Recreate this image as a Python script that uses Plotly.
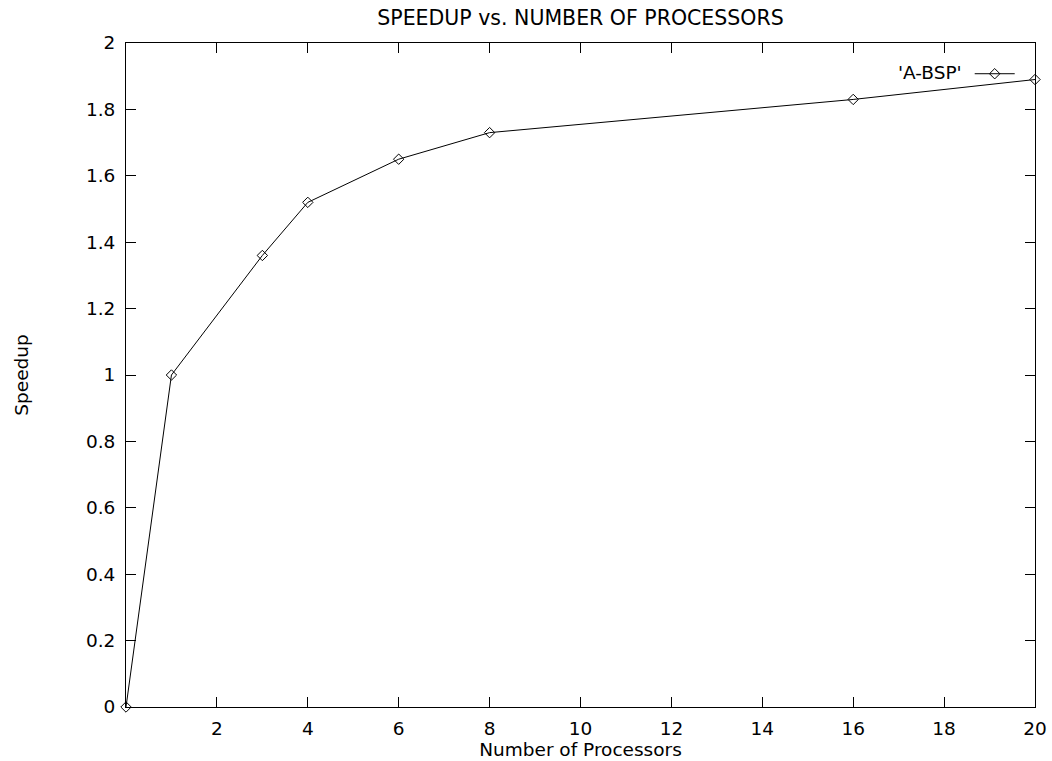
import plotly.graph_objects as go

processors = [0, 1, 3, 4, 6, 8, 16, 20]
speedup = [0.0, 1.0, 1.36, 1.52, 1.65, 1.73, 1.83, 1.89]
x_ticks = [2, 4, 6, 8, 10, 12, 14, 16, 18, 20]
y_ticks = [0, 0.2, 0.4, 0.6, 0.8, 1.0, 1.2, 1.4, 1.6, 1.8, 2.0]
series_name = "'A-BSP'"

FONT = "DejaVu Sans"
FS = 18.5

fig = go.Figure()
fig.add_trace(go.Scatter(
    x=processors, y=speedup, mode="lines+markers", name="",
    line=dict(color="black", width=1),
    marker=dict(symbol="diamond-open", size=8, color="black", line=dict(width=1)),
    cliponaxis=False,
    showlegend=True,
))

axis_common = dict(
    showline=True, linecolor="black", linewidth=1, mirror="ticks",
    ticks="inside", ticklen=10, tickwidth=1, tickcolor="black",
    showgrid=False, zeroline=False, automargin=False,
    tickfont=dict(family=FONT, size=FS, color="black"),
)

fig.update_layout(
    width=1052, height=761,
    margin=dict(l=126, r=17, t=43, b=54),
    paper_bgcolor="white", plot_bgcolor="white",
    font=dict(family=FONT, size=FS, color="black"),
    title=dict(text="SPEEDUP vs. NUMBER OF PROCESSORS", x=(126 + 1035) / 2 / 1052,
               xanchor="center", y=1 - 18 / 761, yanchor="middle",
               font=dict(family=FONT, size=20.5, color="black")),
    xaxis=dict(range=[0, 20], tickvals=x_ticks, ticklabelstandoff=5,
               title=dict(text="Number of Processors", standoff=0,
                          font=dict(family=FONT, size=FS)),
               **axis_common),
    yaxis=dict(range=[0, 2], tickvals=y_ticks, ticklabelstandoff=6,
               title=dict(text="Speedup", standoff=52,
                          font=dict(family=FONT, size=FS)),
               **axis_common),
    legend=dict(
        title=dict(text=series_name, side="left", font=dict(family=FONT, size=FS)),
        x=0.989, xanchor="right", y=0.953, yanchor="middle",
        bgcolor="rgba(0,0,0,0)", itemwidth=40,
        font=dict(family=FONT, size=FS),
    ),
    showlegend=True,
)

fig.write_html("out.html")
